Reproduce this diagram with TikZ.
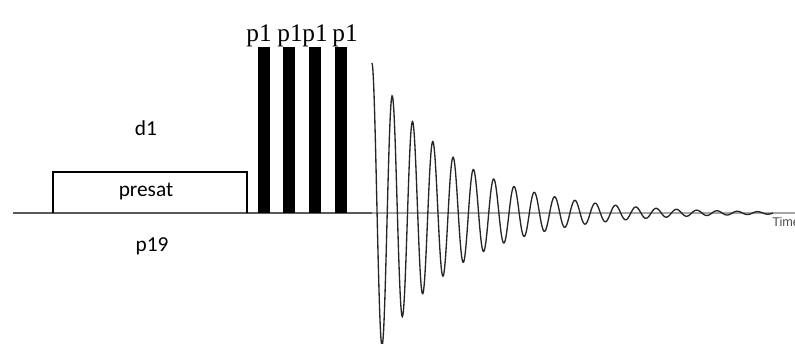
\documentclass[tikz,border=0pt]{standalone}
\usepackage{fontspec}
\setmainfont{Carlito}
\newfontfamily\pulsefont{Liberation Serif}
\newfontfamily\axisfont{Liberation Sans}
\usetikzlibrary{positioning}

\begin{document}
\begin{tikzpicture}[x=0.75pt,y=-0.75pt]
\tikzset{pulse/.style={fill=black,draw=none,minimum width=9pt,minimum height=124.5pt,inner sep=0pt,anchor=south},
  plabel/.style={font=\pulsefont\fontsize{19}{19}\selectfont,inner sep=0pt,anchor=base},
  lbl/.style={font=\fontsize{16}{16}\selectfont,inner sep=0pt}}
\useasboundingbox (0,0) rectangle (795,343);

% baseline and axis of the FID
\draw[line width=1pt,black!65] (13,213) -- (372,213);
\draw[line width=0.9pt,black!35] (372,213) -- (795,213);

% presaturation block
\draw[line width=1.5pt] (53,213) -- (53,172) -- (247,172) -- (247,213);
\node[lbl] (presat) at (146,191) {presat};
\node[lbl] (d1) at (146,128) {d1};
\node[lbl] (p19) at (152,246) {p19};

% hard pulses
\foreach \i/\px/\lx in {1/263.5/259,2/289/290,3/315/315,4/341/345} {
  \node[pulse] (pulse\i) at (\px,213) {};
  \node[plabel] (lab\i) at (\lx,41) {p1};
}

% FID
\draw[line width=1pt,black!85] plot[domain=0:401,samples=900] ({372+\x},{213-150*exp(-\x/82)*cos(17.734*\x)});
\node[anchor=north west,font=\axisfont\fontsize{9.5}{10}\selectfont,text=black!70,inner sep=0pt] (time) at (772,217) {Time};
\end{tikzpicture}
\end{document}
